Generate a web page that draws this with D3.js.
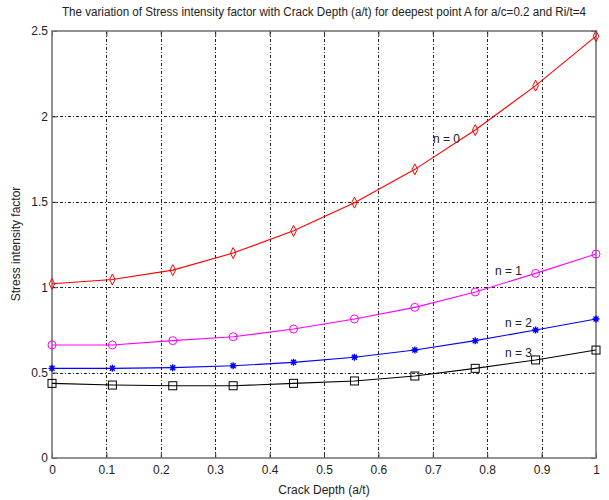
<!DOCTYPE html>
<html>
<head>
<meta charset="utf-8">
<script src="https://cdn.jsdelivr.net/npm/d3@7"></script>
<style>
  body { margin: 0; background: #fff; }
  svg { display: block; font-family: "Liberation Sans", Arial, sans-serif; }
</style>
</head>
<body>
<div id="chart"></div>
<script>
// crack depth a/t, ten evenly spaced points
var crackDepth = [0, 0.111, 0.222, 0.333, 0.444, 0.556, 0.667, 0.778, 0.889, 1.0];
var sifN0 = [1.02, 1.045, 1.10, 1.20, 1.33, 1.495, 1.69, 1.92, 2.18, 2.47];
var sifN1 = [0.662, 0.662, 0.687, 0.71, 0.755, 0.814, 0.882, 0.972, 1.081, 1.194];
var sifN2 = [0.525, 0.525, 0.529, 0.54, 0.56, 0.59, 0.632, 0.687, 0.749, 0.814];
var sifN3 = [0.437, 0.427, 0.423, 0.423, 0.437, 0.451, 0.48, 0.525, 0.574, 0.632];
var seriesNames = ['n = 0', 'n = 1', 'n = 2', 'n = 3'];
var xTicks = [0, 0.1, 0.2, 0.3, 0.4, 0.5, 0.6, 0.7, 0.8, 0.9, 1];
var yTicks = [0, 0.5, 1, 1.5, 2, 2.5];

(function () {
  var width = 609, height = 500;
  var left = 52, right = 596, top = 31, bottom = 458;

  var x = d3.scaleLinear().domain([0, 1]).range([left, right]);
  var y = d3.scaleLinear().domain([0, 2.5]).range([bottom, top]);

  var series = [
    { name: seriesNames[0], values: sifN0, color: '#ff0000', marker: 'diamond', label: [433, 143] },
    { name: seriesNames[1], values: sifN1, color: '#ff00ff', marker: 'circle', label: [495, 275] },
    { name: seriesNames[2], values: sifN2, color: '#0000ff', marker: 'star', label: [505, 327] },
    { name: seriesNames[3], values: sifN3, color: '#000000', marker: 'square', label: [505, 357] }
  ];

  var svg = d3.select('#chart').append('svg')
    .attr('width', width)
    .attr('height', height);

  // grid, dash-dot like matlab
  var grid = svg.append('g').attr('class', 'grid')
    .attr('stroke', '#222').attr('stroke-width', 1).attr('stroke-dasharray', '3,2,1,2');
  grid.selectAll('line.gx').data(xTicks.slice(1, -1)).enter().append('line')
    .attr('x1', function(d) { return Math.round(x(d)) + 0.5; })
    .attr('x2', function(d) { return Math.round(x(d)) + 0.5; })
    .attr('y1', top).attr('y2', bottom);
  grid.selectAll('line.gy').data(yTicks.slice(1, -1)).enter().append('line')
    .attr('y1', function(d) { return Math.round(y(d)) + 0.5; })
    .attr('y2', function(d) { return Math.round(y(d)) + 0.5; })
    .attr('x1', left).attr('x2', right);

  // axes with inward ticks
  var xAxis = d3.axisBottom(x).tickValues(xTicks).tickSizeInner(-5).tickSizeOuter(0)
    .tickFormat(function(d) { return d === 0 || d === 1 ? String(d) : d3.format('.1f')(d); });
  var yAxis = d3.axisLeft(y).tickValues(yTicks).tickSizeInner(-5).tickSizeOuter(0)
    .tickFormat(function(d) { return String(d); });

  var gx = svg.append('g').attr('transform', 'translate(0,' + bottom + ')').call(xAxis);
  var gy = svg.append('g').attr('transform', 'translate(' + left + ',0)').call(yAxis);
  svg.append('g').attr('transform', 'translate(0,' + top + ')')
    .call(d3.axisTop(x).tickValues(xTicks).tickSizeInner(-5).tickSizeOuter(0).tickFormat(''));
  svg.append('g').attr('transform', 'translate(' + right + ',0)')
    .call(d3.axisRight(y).tickValues(yTicks).tickSizeInner(-5).tickSizeOuter(0).tickFormat(''));

  svg.selectAll('.domain').remove();
  svg.selectAll('.tick line').attr('stroke', '#333');
  gx.selectAll('text').attr('font-size', 12).attr('fill', '#222').attr('dy', '0.9em').attr('y', 5);
  gy.selectAll('text').attr('font-size', 12).attr('fill', '#222').attr('x', -4);

  svg.append('rect')
    .attr('x', left).attr('y', top)
    .attr('width', right - left).attr('height', bottom - top)
    .attr('fill', 'none').attr('stroke', '#777').attr('stroke-width', 1.6);

  var line = d3.line()
    .x(function(d, i) { return x(crackDepth[i]); })
    .y(function(d) { return y(d); });

  series.forEach(function(s) {
    var g = svg.append('g').attr('class', 'series');
    g.append('path')
      .attr('d', line(s.values))
      .attr('fill', 'none')
      .attr('stroke', s.color)
      .attr('stroke-width', 1.1);

    var marks = g.selectAll('.mark').data(s.values).enter().append('g')
      .attr('transform', function(d, i) { return 'translate(' + x(crackDepth[i]) + ',' + y(d) + ')'; })
      .attr('fill', 'none').attr('stroke', s.color).attr('stroke-width', 1);

    if (s.marker === 'diamond') {
      marks.append('path').attr('d', 'M0,-5.5L2.8,0L0,5.5L-2.8,0Z');
    } else if (s.marker === 'circle') {
      marks.append('circle').attr('r', 4);
    } else if (s.marker === 'square') {
      marks.append('rect').attr('x', -4).attr('y', -4).attr('width', 8).attr('height', 8);
    } else {
      marks.append('path').attr('d', 'M-3.5,0H3.5M0,-3.5V3.5M-2.5,-2.5L2.5,2.5M-2.5,2.5L2.5,-2.5')
        .attr('stroke-width', 1.4);
    }

    svg.append('text')
      .attr('x', s.label[0]).attr('y', s.label[1])
      .attr('font-size', 12).attr('fill', '#222')
      .text(s.name);
  });

  svg.append('text')
    .attr('x', 324).attr('y', 16)
    .attr('text-anchor', 'middle')
    .attr('font-size', 12).attr('fill', '#222')
    .attr('textLength', 524).attr('lengthAdjust', 'spacingAndGlyphs')
    .text('The variation of Stress intensity factor with Crack Depth  (a/t) for deepest point A for a/c=0.2 and Ri/t=4');

  svg.append('text')
    .attr('x', 324).attr('y', 494)
    .attr('text-anchor', 'middle')
    .attr('font-size', 12).attr('fill', '#222')
    .text('Crack Depth (a/t)');

  svg.append('text')
    .attr('transform', 'translate(20,' + 244 + ') rotate(-90)')
    .attr('text-anchor', 'middle')
    .attr('font-size', 12).attr('fill', '#222')
    .text('Stress intensity factor');
})();
</script>
</body>
</html>
